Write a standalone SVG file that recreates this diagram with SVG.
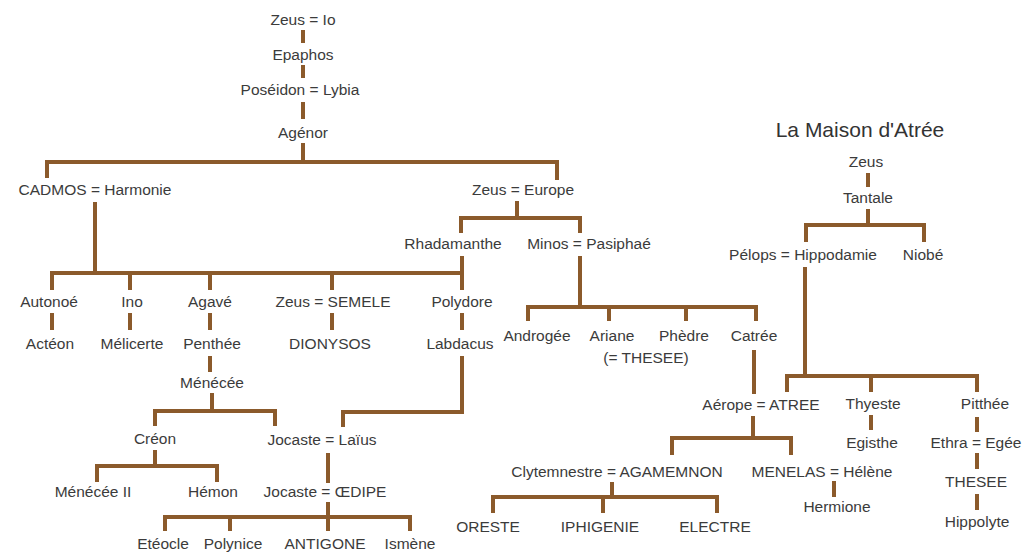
<svg xmlns="http://www.w3.org/2000/svg" width="1027" height="555" viewBox="0 0 1027 555">
<style>
.t{font-family:"Liberation Sans",Arial,sans-serif;font-size:15.5px;fill:#3b3b3b;text-anchor:middle}
.h{font-family:"Liberation Sans",Arial,sans-serif;font-size:21px;fill:#333;text-anchor:middle}
.c path{fill:none;stroke:#8b5a2b;stroke-width:4;stroke-linejoin:miter;stroke-linecap:butt}
</style>
<rect width="1027" height="555" fill="#fff"/>
<g class="c" id="connectors">
<path d="M303 30V43M303 65V78M303 102V119M303 143V162"/>
<path d="M47 178V162H557V180"/>
<path d="M95 202V273M52 290V273H462M130 273V290M210 273V290M332 273V290M462 256V290"/>
<path d="M52 313V330M130 313V330M210 313V330M332 313V330M462 313V330"/>
<path d="M210 356V372M462 356V412H343V427"/>
<path d="M212 393V411M155 426V411H275V426"/>
<path d="M155 450V466M97 482V466H217V482"/>
<path d="M328 453V483M328 502V517M165 531V517H410V531M230 517V531M328 517V531"/>
<path d="M517 201V218M461 233V218H580V233"/>
<path d="M580 256V307M528 321V307H756V321M609 307V321M686 307V321"/>
<path d="M754 350V394M753 416V438M672 455V438H791V455"/>
<path d="M612 482V497M493 513V497H717V513M603 497V513M834 481V497"/>
<path d="M868 173V187M868 209V225M806 242V225H924V242"/>
<path d="M805 267V376M787 392V376H977V392M871 376V392"/>
<path d="M871 415V430M977 417V432M977 453V469M977 494V510"/>
</g>
<g id="n-zeus-io"><text class="t" x="303" y="25">Zeus = Io</text></g>
<g id="n-epaphos"><text class="t" x="303" y="60">Epaphos</text></g>
<g id="n-poseidon"><text class="t" x="300" y="95">Poséidon = Lybia</text></g>
<g id="n-agenor"><text class="t" x="303" y="138">Agénor</text></g>
<g id="n-cadmos"><text class="t" x="95" y="195">CADMOS = Harmonie</text></g>
<g id="n-zeus-europe"><text class="t" x="523" y="195">Zeus = Europe</text></g>
<g id="n-rhadamanthe"><text class="t" x="453" y="249">Rhadamanthe</text></g>
<g id="n-minos"><text class="t" x="589" y="249">Minos = Pasiphaé</text></g>
<g id="n-autonoe"><text class="t" x="49" y="307">Autonoé</text></g>
<g id="n-ino"><text class="t" x="132" y="307">Ino</text></g>
<g id="n-agave"><text class="t" x="210" y="307">Agavé</text></g>
<g id="n-semele"><text class="t" x="333" y="307">Zeus = SEMELE</text></g>
<g id="n-polydore"><text class="t" x="462" y="307">Polydore</text></g>
<g id="n-acteon"><text class="t" x="50" y="349">Actéon</text></g>
<g id="n-melicerte"><text class="t" x="132" y="349">Mélicerte</text></g>
<g id="n-penthee"><text class="t" x="212" y="349">Penthée</text></g>
<g id="n-dionysos"><text class="t" x="330" y="349">DIONYSOS</text></g>
<g id="n-labdacus"><text class="t" x="460" y="349">Labdacus</text></g>
<g id="n-menecee"><text class="t" x="212" y="388">Ménécée</text></g>
<g id="n-creon"><text class="t" x="155" y="444">Créon</text></g>
<g id="n-jocaste-laius"><text class="t" x="322" y="445">Jocaste = Laïus</text></g>
<g id="n-menecee2"><text class="t" x="93" y="497">Ménécée II</text></g>
<g id="n-hemon"><text class="t" x="213" y="497">Hémon</text></g>
<g id="n-oedipe"><text class="t" x="325" y="497">Jocaste = ŒDIPE</text></g>
<g id="n-eteocle"><text class="t" x="163" y="549">Etéocle</text></g>
<g id="n-polynice"><text class="t" x="233" y="549">Polynice</text></g>
<g id="n-antigone"><text class="t" x="325" y="549">ANTIGONE</text></g>
<g id="n-ismene"><text class="t" x="410" y="549">Ismène</text></g>
<g id="n-androgee"><text class="t" x="537" y="341">Androgée</text></g>
<g id="n-ariane"><text class="t" x="612" y="341">Ariane</text><text class="t" x="646" y="363">(= THESEE)</text></g>
<g id="n-phedre"><text class="t" x="684" y="341">Phèdre</text></g>
<g id="n-catree"><text class="t" x="754" y="341">Catrée</text></g>
<g id="n-atree"><text class="t" x="761" y="410">Aérope = ATREE</text></g>
<g id="n-agamemnon"><text class="t" x="617" y="477">Clytemnestre = AGAMEMNON</text></g>
<g id="n-menelas"><text class="t" x="822" y="477">MENELAS = Hélène</text></g>
<g id="n-oreste"><text class="t" x="488" y="532">ORESTE</text></g>
<g id="n-iphigenie"><text class="t" x="600" y="532">IPHIGENIE</text></g>
<g id="n-electre"><text class="t" x="715" y="532">ELECTRE</text></g>
<g id="n-hermione"><text class="t" x="837" y="512">Hermione</text></g>
<g id="title"><text class="h" x="860" y="137">La Maison d'Atrée</text></g>
<g id="n-zeus-atree"><text class="t" x="866" y="167">Zeus</text></g>
<g id="n-tantale"><text class="t" x="868" y="203">Tantale</text></g>
<g id="n-pelops"><text class="t" x="803" y="260">Pélops = Hippodamie</text></g>
<g id="n-niobe"><text class="t" x="923" y="260">Niobé</text></g>
<g id="n-thyeste"><text class="t" x="873" y="409">Thyeste</text></g>
<g id="n-pitthee"><text class="t" x="985" y="409">Pitthée</text></g>
<g id="n-egisthe"><text class="t" x="872" y="448">Egisthe</text></g>
<g id="n-ethra"><text class="t" x="976" y="448">Ethra = Egée</text></g>
<g id="n-thesee"><text class="t" x="976" y="487">THESEE</text></g>
<g id="n-hippolyte"><text class="t" x="977" y="527">Hippolyte</text></g>
</svg>
